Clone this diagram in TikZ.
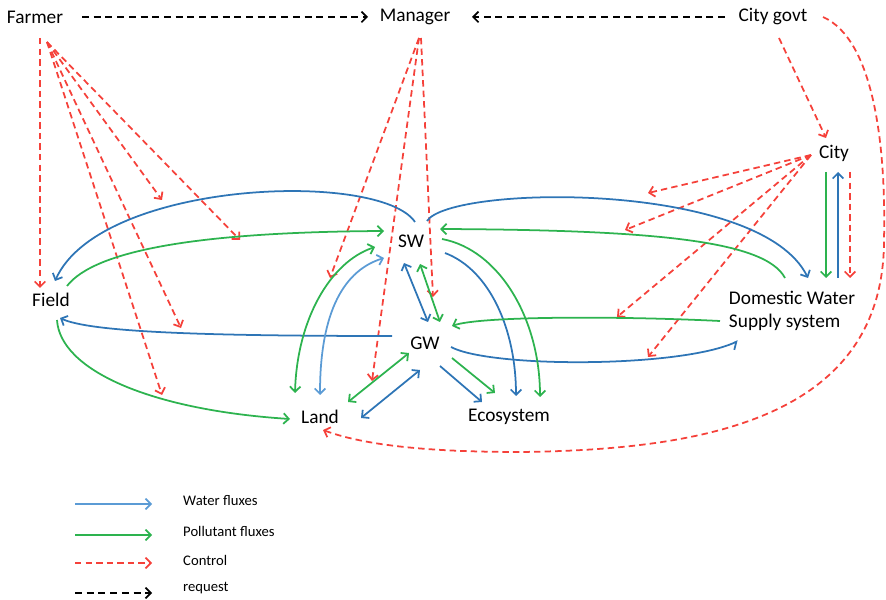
\documentclass[tikz,border=0pt]{standalone}
\usepackage{fontspec}
\setmainfont{Carlito}
\usetikzlibrary{positioning, arrows.meta, calc}
\definecolor{wblue}{HTML}{2E75B6}
\definecolor{lblue}{HTML}{5B9BD5}
\definecolor{pgreen}{HTML}{2DB34F}
\definecolor{cred}{HTML}{F5413A}

\begin{document}
\begin{tikzpicture}[
    x=0.03cm, y=-0.03cm,
    >={Straight Barb[length=4.5pt,width=9pt]},
    lbl/.style={font=\fontsize{16.5}{19.5}\selectfont, inner sep=0pt},
    leg/.style={font=\fontsize{12.5}{14}\selectfont, inner sep=0pt, anchor=west},
    water/.style={draw=wblue, line width=1.5pt},
    lwater/.style={draw=lblue, line width=1.5pt},
    pollut/.style={draw=pgreen, line width=1.5pt},
    ctrl/.style={draw=cred, line width=1.5pt, dash pattern=on 5.5pt off 3.5pt},
    req/.style={draw=black, line width=1.5pt, dash pattern=on 6pt off 4pt},
    half/.style={-{Straight Barb[harpoon, swap, length=4.5pt, width=11pt]}},
]
\useasboundingbox (0,0) rectangle (886,600);

\node[lbl] (farmer) at (35,17) {Farmer};
\node[lbl] (manager) at (415,17) {Manager};
\node[lbl] (govt) at (773,17) {City govt};
\node[lbl] (city) at (834,153) {City};
\node[lbl] (field) at (51,300) {Field};
\node[lbl] (sw) at (411,241) {SW};
\node[lbl] (gw) at (425,343) {GW};
\node[lbl] (land) at (320,417) {Land};
\node[lbl] (eco) at (509,417) {Ecosystem};
\node[lbl, align=left] (dws) at (792,311) {Domestic Water\\Supply system};

\coordinate (farm1) at (162,200);
\coordinate (farm2) at (240,240);
\coordinate (farm3) at (181,328);
\coordinate (farm4) at (162,395);
\coordinate (man1) at (330,278);
\coordinate (man2) at (372,381);
\coordinate (man3) at (433,297);
\coordinate (city1) at (648,193);
\coordinate (city2) at (625,230);
\coordinate (city3) at (617,317);
\coordinate (city4) at (648,357);

\draw[req,->] ($(farmer)+(47,0)$) -- ($(manager)+(-47,0)$);
\draw[req,->] ($(govt)+(-48,0)$) -- ($(manager)+(57,0)$);

\draw[ctrl,->] ($(farmer)+(5,21)$) -- ($(field)+(-11,-12)$);
\draw[ctrl,->] ($(farmer)+(12,25)$) -- (farm1);
\draw[ctrl,->] ($(farmer)+(12,25)$) -- (farm2);
\draw[ctrl,->] ($(farmer)+(12,25)$) -- (farm3);
\draw[ctrl,->] ($(farmer)+(12,25)$) -- (farm4);
\draw[ctrl,->] ($(manager)+(4,21)$) -- (man1);
\draw[ctrl,->] ($(manager)+(4,21)$) -- (man2);
\draw[ctrl,->] ($(manager)+(6,21)$) -- (man3);
\draw[ctrl,->] ($(govt)+(6,21)$) -- ($(city)+(-8,-15)$);
\draw[ctrl,->] ($(govt)+(50,0)$) .. controls +(52,23) and +(2,-90) .. (884,240)
    .. controls +(0,180) and +(180,-2) .. (520,452)
    .. controls +(-100,0) and +(38,14) .. ($(land)+(3,13)$);
\draw[ctrl,->] ($(city)+(-23,2)$) -- (city1);
\draw[ctrl,->] ($(city)+(-23,2)$) -- (city2);
\draw[ctrl,->] ($(city)+(-23,2)$) -- (city3);
\draw[ctrl,->] ($(city)+(-23,2)$) -- (city4);
\draw[ctrl,->] ($(city)+(16,19)$) -- ($(dws)+(58,-33)$);

\draw[water,->] ($(sw)+(4,-19)$) .. controls +(-35,-52) and +(45,-101) .. ($(field)+(4,-19)$);
\draw[water,->] ($(sw)+(16,-20)$) .. controls +(23,-36) and +(-48,-98) .. ($(dws)+(16,-33)$);
\draw[water,->] ($(gw)+(-33,-7)$) .. controls +(-192,0) and +(30,14) .. ($(field)+(9,18)$);
\draw[lwater,<->] ($(land)+(0,-22)$) .. controls +(0,-85) and +(-39,12) .. ($(sw)+(-27,17)$);
\draw[water,<->] ($(sw)+(-7,22)$) -- ($(gw)+(3,-21)$);
\draw[water,<->] ($(gw)+(-5,27)$) -- ($(land)+(41,1)$);
\draw[water,->] ($(gw)+(15,23)$) -- ($(eco)+(-27,-15)$);
\draw[water,->] ($(sw)+(34,12)$) .. controls +(45,17) and +(0,-66) .. ($(eco)+(7,-21)$);
\draw[water,half] ($(gw)+(26,4)$) .. controls +(39,21) and +(-58,27) .. ($(dws)+(-54,30)$);
\draw[water,->] ($(dws)+(46,-33)$) -- ($(city)+(4,19)$);

\draw[pollut,->] ($(field)+(16,-14)$) .. controls +(28,-36) and +(-184,1) .. ($(sw)+(-27,-10)$);
\draw[pollut,->] ($(dws)+(-7,-33)$) .. controls +(-20,-38) and +(210,1) .. ($(sw)+(29,-12)$);
\draw[pollut,->] ($(dws)+(-72,10)$) .. controls +(-100,-5) and +(28,-10) .. ($(gw)+(27,-17)$);
\draw[pollut,->] ($(field)+(6,20)$) .. controls +(3,50) and +(-140,-9) .. ($(land)+(-30,2)$);
\draw[pollut,<->] ($(sw)+(-36,6)$) .. controls +(-45,15) and +(2,-73) .. ($(land)+(-25,-24)$);
\draw[pollut,<->] ($(sw)+(9,23)$) -- ($(gw)+(15,-21)$);
\draw[pollut,<->] ($(gw)+(-16,10)$) -- ($(land)+(28,-15)$);
\draw[pollut,->] ($(gw)+(27,15)$) -- ($(eco)+(-14,-24)$);
\draw[pollut,->] ($(sw)+(31,-2)$) .. controls +(58,11) and +(0,-77) .. ($(eco)+(31,-20)$);
\draw[pollut,->] ($(city)+(-8,19)$) -- ($(dws)+(34,-33)$);

\node[leg] (lw) at (183,501) {Water fluxes};
\node[leg] (lp) at (183,531) {Pollutant fluxes};
\node[leg] (lc) at (183,560) {Control};
\node[leg] (lr) at (183,588) {request};
\draw[lwater,->] ($(lw.west)+(-108,3)$) -- ($(lw.west)+(-31,3)$);
\draw[pollut,->] ($(lp.west)+(-108,4)$) -- ($(lp.west)+(-31,4)$);
\draw[ctrl,->] ($(lc.west)+(-108,3)$) -- ($(lc.west)+(-31,3)$);
\draw[req,->] ($(lr.west)+(-108,5)$) -- ($(lr.west)+(-31,5)$);

\end{tikzpicture}
\end{document}
